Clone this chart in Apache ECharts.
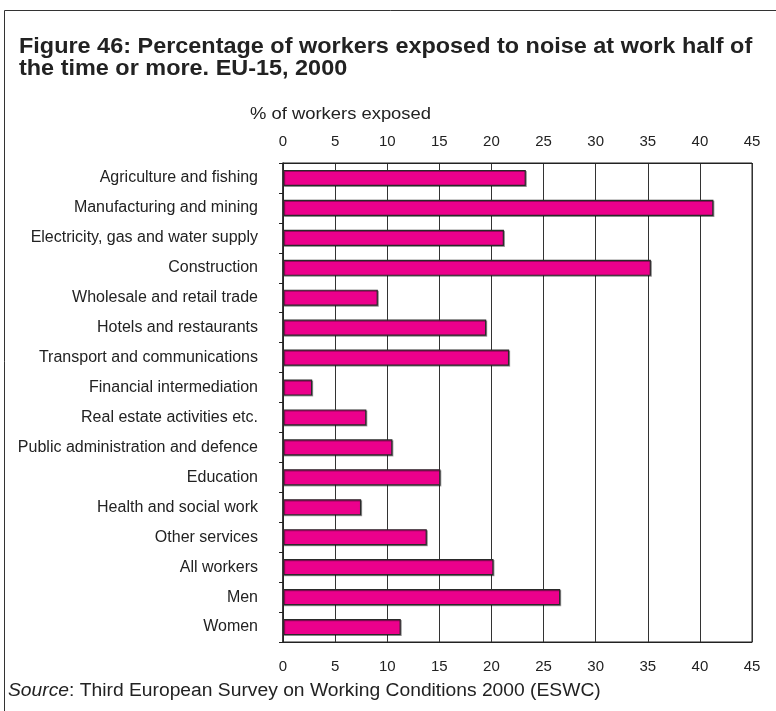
<!DOCTYPE html>
<html>
<head>
<meta charset="utf-8">
<script src="https://cdn.jsdelivr.net/npm/echarts@6/dist/echarts.min.js"></script>
<style>
html,body{margin:0;padding:0;background:#fff;}
#c{width:776px;height:711px;}
</style>
</head>
<body>
<div id="c"></div>
<script>
var categories = [
  "Agriculture and fishing",
  "Manufacturing and mining",
  "Electricity, gas and water supply",
  "Construction",
  "Wholesale and retail trade",
  "Hotels and restaurants",
  "Transport and communications",
  "Financial intermediation",
  "Real estate activities etc.",
  "Public administration and defence",
  "Education",
  "Health and social work",
  "Other services",
  "All workers",
  "Men",
  "Women"
];
var exposedPct = [23.3, 41.3, 21.2, 35.3, 9.1, 19.5, 21.7, 2.8, 8.0, 10.5, 15.1, 7.5, 13.8, 20.2, 26.6, 11.3];
var axisMin = 0, axisMax = 45, axisStep = 5;
var titleLine1 = "Figure 46: Percentage of workers exposed to noise at work half of";
var titleLine2 = "the time or more. EU-15, 2000";
var axisTitle = "% of workers exposed";

var chart = echarts.init(document.getElementById('c'));
var font = "'Liberation Sans', Arial, sans-serif";
var valueAxisBase = {
  type: 'value', min: axisMin, max: axisMax, interval: axisStep,
  axisLine: {show: true, lineStyle: {color: '#222', width: 1}},
  axisTick: {show: false},
  splitLine: {show: true, lineStyle: {color: '#333', width: 1}},
  axisLabel: {color: '#222', fontSize: 15, fontFamily: font, margin: 14}
};
chart.setOption({
  animation: false,
  backgroundColor: '#fff',
  textStyle: {fontFamily: font},
  graphic: [
    {type: 'rect', shape: {x: 4.5, y: 10.5, width: 800, height: 800}, style: {fill: null, stroke: '#333', lineWidth: 1}, z: -1},
    {type: 'text', x: 19, y: 47, scaleX: 1.09, style: {text: titleLine1, fontSize: 21.5, fontWeight: 'bold', fill: '#222', fontFamily: font, verticalAlign: 'middle'}},
    {type: 'text', x: 19, y: 69, scaleX: 1.09, style: {text: titleLine2, fontSize: 21.5, fontWeight: 'bold', fill: '#222', fontFamily: font, verticalAlign: 'middle'}},
    {type: 'text', x: 250, y: 115, scaleX: 1.15, style: {text: axisTitle, fontSize: 16, fill: '#222', fontFamily: font, verticalAlign: 'middle'}},
    {type: 'text', x: 8, y: 691, scaleX: 1.07, style: {
      text: '{i|Source}: Third European Survey on Working Conditions 2000 (ESWC)',
      fontSize: 18, fill: '#222', fontFamily: font, verticalAlign: 'middle',
      rich: {i: {fontStyle: 'italic', fontSize: 18, fill: '#222', fontFamily: font}}
    }}
  ],
  grid: {left: 283, right: 24, top: 163, bottom: 69, show: true, borderColor: '#222', borderWidth: 1},
  xAxis: [
    Object.assign({}, valueAxisBase, {position: 'bottom', axisLabel: Object.assign({}, valueAxisBase.axisLabel, {margin: 17})}),
    Object.assign({}, valueAxisBase, {position: 'top', splitLine: {show: false}})
  ],
  yAxis: {
    type: 'category', data: categories, inverse: true,
    axisLine: {show: true, lineStyle: {color: '#222', width: 1.5}},
    axisTick: {show: true, inside: false, length: 4, lineStyle: {color: '#222'}},
    axisLabel: {color: '#222', fontSize: 16, fontFamily: font, margin: 25}
  },
  series: [{
    type: 'bar', data: exposedPct, xAxisIndex: 0,
    barCategoryGap: '46%',
    itemStyle: {color: '#EC008C', borderColor: '#2a2a2a', borderWidth: 1.2,
      shadowColor: 'rgba(0,0,0,0.35)', shadowOffsetX: 1, shadowOffsetY: 1, shadowBlur: 0}
  }]
});
</script>
</body>
</html>
